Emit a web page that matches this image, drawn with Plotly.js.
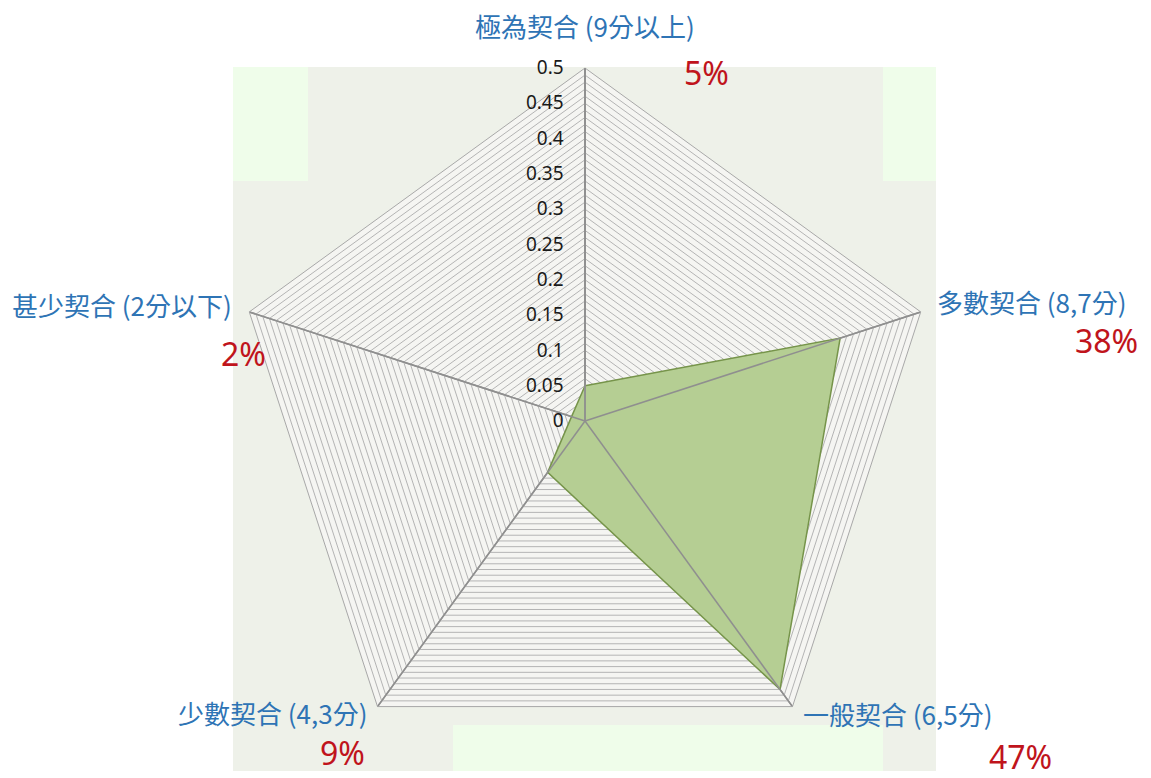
<!DOCTYPE html>
<html>
<head>
<meta charset="utf-8">
<script src="https://cdn.plot.ly/plotly-3.0.1.min.js"></script>
<style>html,body{margin:0;padding:0;background:#fff;}#chart{width:1151px;height:778px;}</style>
</head>
<body>
<div id="chart"></div>
<script>
// ---- data ----
const categories = ['極為契合 (9分以上)', '多數契合 (8,7分)', '一般契合 (6,5分)', '少數契合 (4,3分)', '甚少契合 (2分以下)'];
const shares = [0.05, 0.38, 0.47, 0.09, 0.02];
const percentLabels = ['5%', '38%', '47%', '9%', '2%'];
const radialTickLabels = ['0', '0.05', '0.1', '0.15', '0.2', '0.25', '0.3', '0.35', '0.4', '0.45', '0.5'];
const radialMax = 0.5;
const gridStep = 0.01;

// ---- ticks: fine grid every 0.01, labels every 0.05 ----
const tickvals = [], ticktext = [];
const nGrid = Math.round(radialMax / gridStep);
for (let i = 0; i <= nGrid; i++) {
  tickvals.push(+(i * gridStep).toFixed(2));
  ticktext.push(i % 5 === 0 ? radialTickLabels[i / 5] : '');
}

// ---- spokes drawn over the filled area ----
const spokeR = [], spokeT = [];
categories.forEach(c => { spokeR.push(0, radialMax, null); spokeT.push(c, c, null); });

const W = 1151, H = 778;
const px = x => x / W, py = y => 1 - y / H;
const cx = 585, cy = 421, R = 353;

const traces = [
  {
    type: 'scatterpolar',
    r: shares.concat([shares[0]]),
    theta: categories.concat([categories[0]]),
    mode: 'lines',
    fill: 'toself',
    fillcolor: '#b5ce93',
    line: {color: '#76944a', width: 1.5},
    hoverinfo: 'r+theta',
    showlegend: false
  },
  {
    type: 'scatterpolar',
    r: spokeR,
    theta: spokeT,
    mode: 'lines',
    line: {color: '#8f8f8f', width: 1.5},
    hoverinfo: 'skip',
    showlegend: false,
    connectgaps: false
  }
];

// label placement (pixels) for category names and percentages
const catPos = [[585, 25], [1032, 302], [898, 713], [273, 712], [122, 304]];
const pctPos = [[706, 72], [1106, 340], [1020, 756], [342, 752], [243, 354]];

const annotations = [];
categories.forEach((c, i) => {
  annotations.push({
    text: c, xref: 'paper', yref: 'paper', x: px(catPos[i][0]), y: py(catPos[i][1]),
    xanchor: 'center', yanchor: 'middle', showarrow: false, borderpad: 0,
    font: {family: 'Noto Sans CJK TC, Noto Sans, sans-serif', size: 26, color: '#2e74b5'}
  });
  annotations.push({
    text: percentLabels[i], xref: 'paper', yref: 'paper', x: px(pctPos[i][0]), y: py(pctPos[i][1]),
    xanchor: 'center', yanchor: 'middle', showarrow: false, borderpad: 0,
    font: {family: 'Noto Sans, sans-serif', size: 32, color: '#c0141c'}
  });
});

const layout = {
  width: W, height: H,
  margin: {l: 0, r: 0, t: 0, b: 0},
  paper_bgcolor: '#ffffff',
  showlegend: false,
  polar: {
    domain: {x: [px(cx - R), px(cx + R)], y: [py(cy + R), py(cy - R)]},
    bgcolor: '#f5f5f2',
    gridshape: 'linear',
    angularaxis: {
      direction: 'clockwise',
      rotation: 90,
      showticklabels: false,
      ticks: '',
      showgrid: true,
      gridcolor: '#8f8f8f',
      gridwidth: 1.5,
      showline: true,
      linecolor: '#a8a8a8',
      linewidth: 1
    },
    radialaxis: {
      range: [0, radialMax],
      angle: 90,
      tickangle: 90,
      side: 'counterclockwise',
      tickmode: 'array',
      tickvals: tickvals,
      ticktext: ticktext,
      ticks: 'outside',
      ticklen: 14,
      tickcolor: 'rgba(0,0,0,0)',
      showline: true,
      linecolor: '#8f8f8f',
      linewidth: 1.5,
      gridcolor: '#b4b4b4',
      gridwidth: 1,
      tickfont: {family: 'Noto Sans, sans-serif', size: 19, color: '#1a1a1a'}
    }
  },
  shapes: [
    {type: 'rect', xref: 'paper', yref: 'paper', layer: 'below', x0: px(233), x1: px(936), y0: py(771), y1: py(67), fillcolor: '#eef1e9', line: {width: 0}},
    {type: 'rect', xref: 'paper', yref: 'paper', layer: 'below', x0: px(233), x1: px(308), y0: py(181), y1: py(67), fillcolor: '#effdea', line: {width: 0}},
    {type: 'rect', xref: 'paper', yref: 'paper', layer: 'below', x0: px(883), x1: px(936), y0: py(181), y1: py(67), fillcolor: '#effdea', line: {width: 0}},
    {type: 'rect', xref: 'paper', yref: 'paper', layer: 'below', x0: px(453), x1: px(883), y0: py(771), y1: py(725), fillcolor: '#effdea', line: {width: 0}}
  ],
  annotations: annotations
};

Plotly.newPlot('chart', traces, layout, {displayModeBar: false, staticPlot: true});
</script>
</body>
</html>
